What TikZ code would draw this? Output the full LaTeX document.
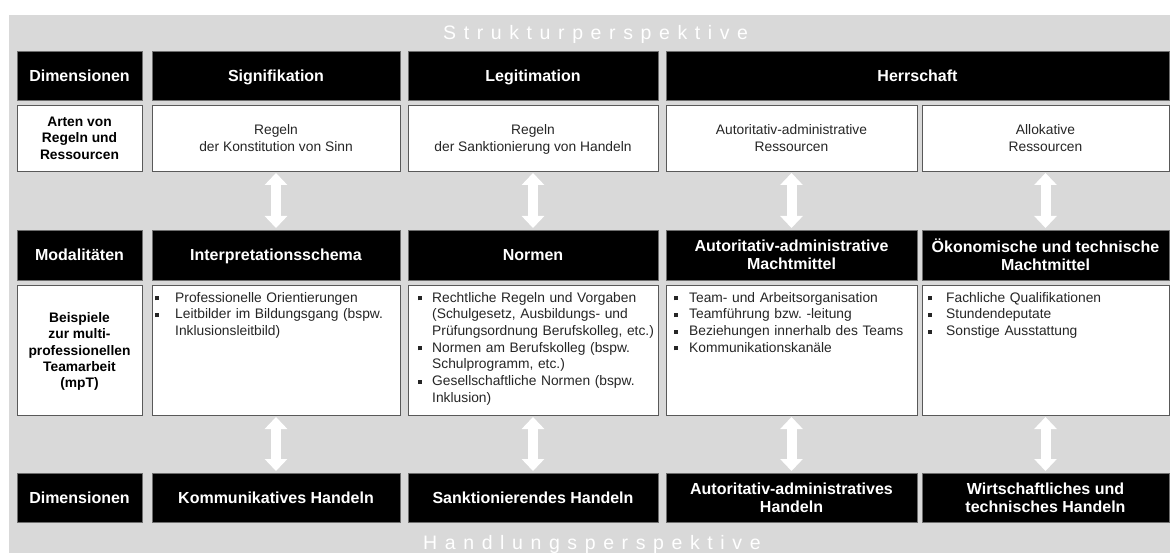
\documentclass[tikz,border=0pt]{standalone}
\usepackage{fontspec}
\setmainfont{Liberation Sans}
\newfontfamily\spacedfont[LetterSpace=39]{Liberation Sans}
\usetikzlibrary{arrows.meta}
\definecolor{bggray}{HTML}{D9D9D9}
\definecolor{bordergray}{HTML}{595959}
\definecolor{headborder}{HTML}{6E6E6E}
\definecolor{txtgray}{HTML}{262626}
\frenchspacing
% bullet line and continuation line
\newcommand\bln[2][17pt]{\noindent\makebox[#1][l]{\rule[1.8pt]{4pt}{4pt}}#2\par}
\newcommand\cln[2][17pt]{\noindent\hspace*{#1}#2\par}
\tikzset{
  cell/.style={inner sep=0pt, outer sep=0pt, line width=0.9pt, align=center, text depth=0pt},
  head/.style={cell, draw=headborder, fill=black, text=white, font=\fontsize{16}{18}\selectfont\bfseries},
  wbox/.style={cell, draw=bordergray, fill=white, text=txtgray, font=\fontsize{13.8}{16.6}\selectfont},
  lbox/.style={cell, draw=bordergray, fill=white, text=black, font=\fontsize{13.8}{16.3}\selectfont\bfseries},
  bul/.style={anchor=north west, inner sep=0pt, text width=250pt, align=left, text=txtgray, font=\fontsize{13.8}{16.7}\selectfont\frenchspacing},
  dbl/.style={draw=white, line width=10pt, {Triangle[length=12pt,width=22pt]}-{Triangle[length=12pt,width=22pt]}, shorten <=2pt, shorten >=2pt},
  persp/.style={anchor=base west, inner sep=0pt, text=white, font=\fontsize{19.5}{20}\spacedfont},
  r1/.style={minimum height=49pt},
  r2/.style={minimum height=66pt},
  r3/.style={minimum height=50pt},
  r4/.style={minimum height=130pt},
  r5/.style={minimum height=49pt},
  cl/.style={minimum width=125pt},
  ca/.style={minimum width=248pt},
  cb/.style={minimum width=250pt},
  cc/.style={minimum width=251pt},
  cd/.style={minimum width=247pt},
}
\begin{document}
\begin{tikzpicture}[x=1pt,y=-1pt]
\useasboundingbox (0,0) rectangle (1170,553);
\fill[bggray] (9,15) rectangle (1170,553);

\node[persp] (struk) at (443,40) {Strukturperspektive};
\node[persp] (handl) at (423,549) {Handlungsperspektive};

% row 1
\node[head,r1,cl] (d1) at (79.5,75.5) {Dimensionen};
\node[head,r1,ca] (sig) at (276,75.5) {Signifikation};
\node[head,r1,cb] (leg) at (533,75.5) {Legitimation};
\node[head,r1,minimum width=503pt] (her) at (917.5,75.5) {Herrschaft};

% row 2
\node[lbox,r2,cl] (arten) at (79.5,138) {Arten von\\Regeln und\\Ressourcen};
\node[wbox,r2,ca] (ra) at (276,138) {Regeln\\der Konstitution von Sinn};
\node[wbox,r2,cb] (rb) at (533,138) {Regeln\\der Sanktionierung von Handeln};
\node[wbox,r2,cc] (rc) at (791.5,138) {Autoritativ-administrative\\Ressourcen};
\node[wbox,r2,cd] (rd) at (1045.5,138) {Allokative\\Ressourcen};

% row 3
\node[head,r3,cl] (mod) at (79.5,255) {Modalitäten};
\node[head,r3,ca] (ma) at (276,255) {Interpretationsschema};
\node[head,r3,cb] (mb) at (533,255) {Normen};
\node[head,r3,cc] (mc) at (791.5,255) {Autoritativ-administrative\\Machtmittel};
\node[head,r3,cd] (md) at (1045.5,255) {Ökonomische und technische\\Machtmittel};

% row 4
\node[lbox,r4,cl] (beisp) at (79.5,350) {Beispiele\\zur multi-\\professionellen\\Teamarbeit\\(mpT)};
\node[wbox,r4,ca] (ba) at (276,350) {};
\node[wbox,r4,cb] (bb) at (533,350) {};
\node[wbox,r4,cc] (bc) at (791.5,350) {};
\node[wbox,r4,cd] (bd) at (1045.5,350) {};

\node[bul] (la) at ([shift={(3,7)}]ba.north west) {%
  \bln[20pt]{Professionelle Orientierungen}%
  \bln[20pt]{Leitbilder im Bildungsgang (bspw.}%
  \cln[20pt]{Inklusionsleitbild)}};
\node[bul] (lb) at ([shift={(10,7)}]bb.north west) {%
  \bln[14pt]{Rechtliche Regeln und Vorgaben}%
  \cln[14pt]{(Schulgesetz, Ausbildungs- und}%
  \cln[14pt]{Prüfungsordnung Berufskolleg, etc.)}%
  \bln[14pt]{Normen am Berufskolleg (bspw.}%
  \cln[14pt]{Schulprogramm, etc.)}%
  \bln[14pt]{Gesellschaftliche Normen (bspw.}%
  \cln[14pt]{Inklusion)}};
\node[bul] (lc) at ([shift={(8,7)}]bc.north west) {%
  \bln[15pt]{Team- und Arbeitsorganisation}%
  \bln[15pt]{Teamführung bzw. -leitung}%
  \bln[15pt]{Beziehungen innerhalb des Teams}%
  \bln[15pt]{Kommunikationskanäle}};
\node[bul] (ld) at ([shift={(6,7)}]bd.north west) {%
  \bln[18pt]{Fachliche Qualifikationen}%
  \bln[18pt]{Stundendeputate}%
  \bln[18pt]{Sonstige Ausstattung}};

% row 5
\node[head,r5,cl] (d5) at (79.5,497.5) {Dimensionen};
\node[head,r5,ca] (ha) at (276,497.5) {Kommunikatives Handeln};
\node[head,r5,cb] (hb) at (533,497.5) {Sanktionierendes Handeln};
\node[head,r5,cc] (hc) at (791.5,497.5) {Autoritativ-administratives\\Handeln};
\node[head,r5,cd] (hd) at (1045.5,497.5) {Wirtschaftliches und\\technisches Handeln};

% arrows
\draw[dbl] (ra.south) -- (ma.north);
\draw[dbl] (rb.south) -- (mb.north);
\draw[dbl] (rc.south) -- (mc.north);
\draw[dbl] (rd.south) -- (md.north);
\draw[dbl] (ba.south) -- (ha.north);
\draw[dbl] (bb.south) -- (hb.north);
\draw[dbl] (bc.south) -- (hc.north);
\draw[dbl] (bd.south) -- (hd.north);
\end{tikzpicture}
\end{document}
